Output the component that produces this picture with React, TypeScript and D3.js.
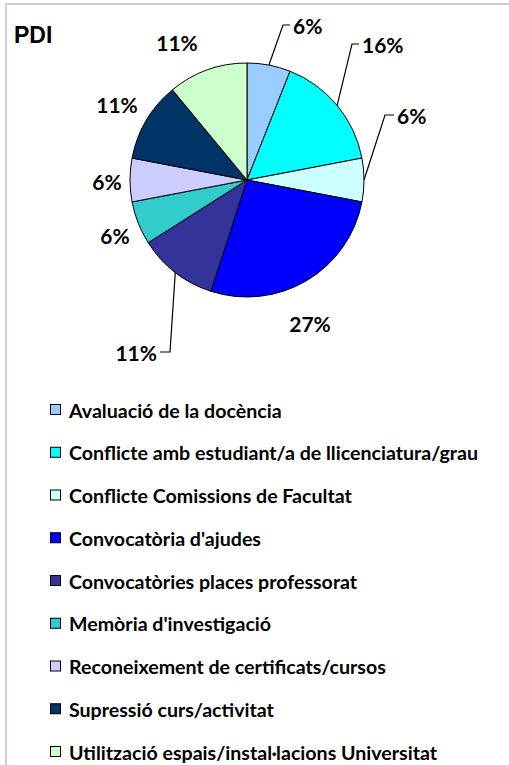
import React from 'react';
import * as d3 from 'd3';

// categories and values (percent)
const categories = [
  'Avaluació de la docència',
  'Conflicte amb estudiant/a de llicenciatura/grau',
  'Conflicte Comissions de Facultat',
  "Convocatòria d'ajudes",
  'Convocatòries places professorat',
  "Memòria d'investigació",
  'Reconeixement de certificats/cursos',
  'Supressió curs/activitat',
  'Utilització espais/instal·lacions Universitat',
];
const values = [6, 16, 6, 27, 11, 6, 6, 11, 11];
const colors = ['#99ccff', '#00ffff', '#ccffff', '#0000ff', '#333399', '#33cccc', '#ccccff', '#003366', '#ccffcc'];
const title = 'PDI';

// label placement (dragged labels in the original get a leader line)
const labelLayout = [
  { x: 293, y: 25, anchor: 'start', leader: [283, 25, 290] },
  { x: 362, y: 44, anchor: 'start', leader: [352, 44, 359] },
  { x: 397, y: 115, anchor: 'start', leader: [385, 115, 394] },
  { x: 310, y: 323, anchor: 'middle', leader: null },
  { x: 157, y: 352, anchor: 'end', leader: [170, 352, 160] },
  { x: 115, y: 235, anchor: 'middle', leader: null },
  { x: 107, y: 181, anchor: 'middle', leader: null },
  { x: 117, y: 104, anchor: 'middle', leader: null },
  { x: 177, y: 42, anchor: 'middle', leader: null },
];

const W = 509;
const H = 765;
const cx = 247;
const cy = 180;
const R = 117;

export default function App() {
  const pie = d3.pie<number>().sort(null).value((d) => d);
  const arcs = pie(values);
  const arc = d3.arc<d3.PieArcDatum<number>>().innerRadius(0).outerRadius(R);
  const edge = d3.arc<d3.PieArcDatum<number>>().innerRadius(R).outerRadius(R);

  const legendY = d3.scalePoint<string>().domain(categories).range([410, 752]);

  return (
    <svg width={W} height={H} style={{ position: 'absolute', left: 0, top: 0, background: '#fff' }}>
      <rect x={6} y={4} width={W + 10} height={H + 10} fill="#fff" stroke="#d2cae2" strokeWidth={2} />
      <text x={14} y={43} fontFamily="Liberation Sans, Arial, sans-serif" fontWeight="bold" fontSize={23} fill="#000">
        {title}
      </text>
      <g transform={`translate(${cx},${cy})`}>
        {arcs.map((a, i) => (
          <path key={i} d={arc(a) || ''} fill={colors[i]} stroke="#000" strokeWidth={1} />
        ))}
      </g>
      {arcs.map((a, i) => {
        const L = labelLayout[i];
        if (!L.leader) return null;
        const [px, py] = edge.centroid(a);
        const pts: [number, number][] = [
          [cx + px, cy + py],
          [L.leader[0], L.leader[1]],
          [L.leader[2], L.leader[1]],
        ];
        return <path key={i} d={d3.line()(pts) || ''} fill="none" stroke="#000" strokeWidth={1.2} />;
      })}
      {arcs.map((a, i) => {
        const L = labelLayout[i];
        return (
          <text
            key={i}
            x={L.x}
            y={L.y}
            textAnchor={L.anchor}
            dominantBaseline="central"
            fontFamily="Lato, sans-serif"
            fontWeight="bold"
            fontSize={21}
            fill="#000"
          >
            {`${a.data}%`}
          </text>
        );
      })}
      {categories.map((c, i) => (
        <g key={c} transform={`translate(0,${legendY(c)})`}>
          <rect x={50.5} y={-5.5} width={10} height={10} fill={colors[i]} stroke="#000" strokeWidth={1} />
          <text x={69} y={0} dominantBaseline="central" fontFamily="Lato, sans-serif" fontWeight="bold" fontSize={19.6} fill="#000">
            {c}
          </text>
        </g>
      ))}
    </svg>
  );
}
